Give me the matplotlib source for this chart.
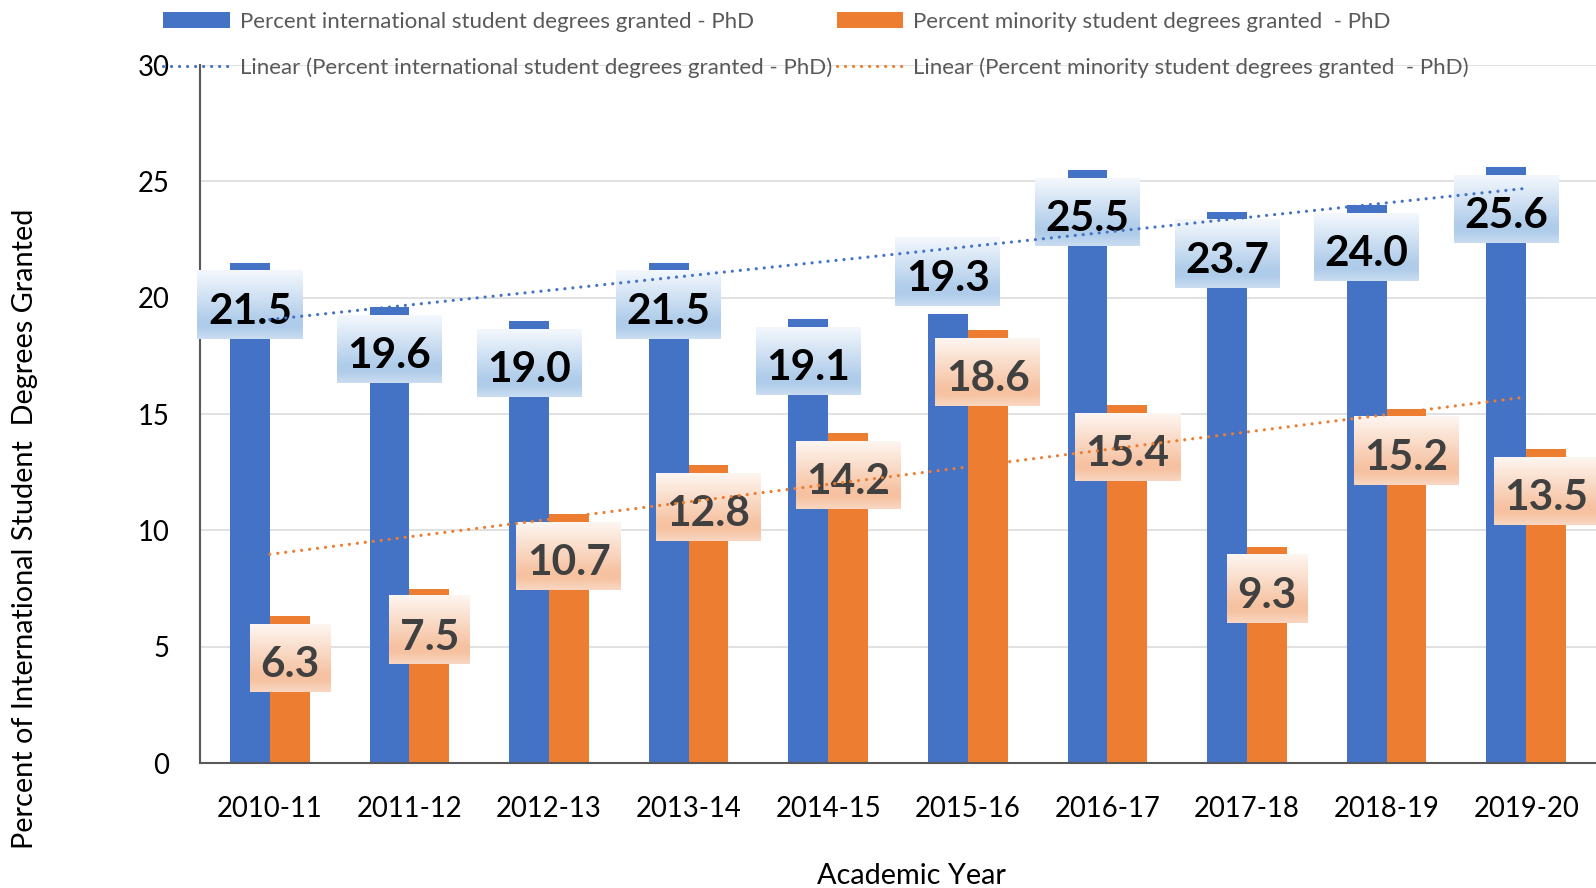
import numpy as np
import matplotlib
matplotlib.use('Agg')
import matplotlib.pyplot as plt
from matplotlib.lines import Line2D
from matplotlib.patches import Patch
import matplotlib.colors as mcolors

years = ['2010-11', '2011-12', '2012-13', '2013-14', '2014-15',
         '2015-16', '2016-17', '2017-18', '2018-19', '2019-20']
intl = [21.5, 19.6, 19.0, 21.5, 19.1, 19.3, 25.5, 23.7, 24.0, 25.6]
minority = [6.3, 7.5, 10.7, 12.8, 14.2, 18.6, 15.4, 9.3, 15.2, 13.5]
intl_label_above = ['2015-16']  # labels placed outside the bar end

name_intl = 'Percent international student degrees granted - PhD'
name_min = 'Percent minority student degrees granted  - PhD'

BLUE = '#4472C4'
ORANGE = '#ED7D31'

plt.rcParams['font.family'] = ['Lato', 'DejaVu Sans']

W, H = 1596, 888
fig = plt.figure(figsize=(W / 100, H / 100), dpi=100)
ax = fig.add_axes([200 / W, 125 / H, 1396 / W, 698 / H])

x = np.arange(len(years))
bw = 0.285
ax.bar(x - bw / 2, intl, bw, color=BLUE, zorder=2)
ax.bar(x + bw / 2, minority, bw, color=ORANGE, zorder=2)

ax.set_xlim(-0.5, 9.5)
ax.set_ylim(0, 30)
ax.set_autoscale_on(False)
ax.set_yticks(np.arange(0, 31, 5))
ax.set_xticks(x)
ax.set_xticklabels(years)
ax.tick_params(axis='both', length=0, labelsize=19.8, colors='black')
ax.tick_params(axis='x', pad=24)
ax.tick_params(axis='y', pad=22)
ax.grid(axis='y', color='#D9D9D9', lw=1.1, zorder=0)
ax.set_axisbelow(True)
for s in ['top', 'right']:
    ax.spines[s].set_visible(False)
for s in ['left', 'bottom']:
    ax.spines[s].set_color('#595959')
    ax.spines[s].set_linewidth(1.5)

# linear trendlines
DOTLW = 2.3
DOTS = (0, (0.01, 2.5))
xs = np.array([x[0], x[-1]])
pi = np.polyfit(x, intl, 1)
pm = np.polyfit(x, minority, 1)
ax.plot(xs, np.polyval(pi, xs), color=BLUE, linestyle=DOTS, lw=DOTLW,
        dash_capstyle='round', zorder=8)
ax.plot(xs, np.polyval(pm, xs), color=ORANGE, linestyle=DOTS, lw=DOTLW,
        dash_capstyle='round', zorder=8)

fig.text(25 / W, 1 - 529 / H, 'Percent of International Student  Degrees Granted',
         rotation=90, ha='center', va='center', fontsize=20.8, color='black')
fig.text(911 / W, 1 - 876 / H, 'Academic Year', ha='center', va='center',
         fontsize=20.8, color='black')

# legend
handles = [Patch(facecolor=BLUE, edgecolor='none'),
           Line2D([], [], color=BLUE, linestyle=DOTS, lw=DOTLW, dash_capstyle='round'),
           Patch(facecolor=ORANGE, edgecolor='none'),
           Line2D([], [], color=ORANGE, linestyle=DOTS, lw=DOTLW, dash_capstyle='round')]
labels = [name_intl, 'Linear (' + name_intl + ')', name_min, 'Linear (' + name_min + ')']
fig.legend(handles, labels, loc='upper left', bbox_to_anchor=(163 / W, 1 - 12 / H),
           ncol=2, frameon=False, fontsize=16, handlelength=3.0, handletextpad=0.45,
           columnspacing=0.22, labelspacing=1.13, borderpad=0, borderaxespad=0,
           labelcolor='#595959')


def gradient(mid, top, bottom):
    stops = [(0.0, top), (0.74, mid), (0.83, mid), (1.0, bottom)]
    n = 100
    arr = np.zeros((n, 1, 3))
    pos = np.linspace(0, 1, n)
    sp = [s[0] for s in stops]
    cols = np.array([mcolors.to_rgb(s[1]) for s in stops])
    for c in range(3):
        arr[:, 0, c] = np.interp(pos, sp, cols[:, c])
    return arr

grad_blue = gradient('#AFCCEA', '#F4F8FD', '#CADDF1')
grad_or = gradient('#F6C2A1', '#FEF6F1', '#F9D7C2')

fig.canvas.draw()
renderer = fig.canvas.get_renderer()
px = 100 / 72.0

labels_info = []
for i, yr in enumerate(years):
    above = yr in intl_label_above
    labels_info.append((x[i] - bw / 2, intl[i], above, 'black', grad_blue))
    labels_info.append((x[i] + bw / 2, minority[i], False, '#404040', grad_or))

for xc, v, above, tcol, grad in labels_info:
    if above:
        off = (8 + 15) / px
    else:
        off = -(8 + 53) / px
    t = ax.annotate(f'{v:.1f}', xy=(xc, v), xytext=(0, off), textcoords='offset points',
                    ha='center', va='baseline', fontsize=30.5, fontweight='bold',
                    color=tcol, zorder=7, annotation_clip=False)
    bb = t.get_window_extent(renderer)
    _, ytop_bar = ax.transData.transform((xc, v))
    if above:
        y0 = ytop_bar + 8
        y1 = y0 + 68
    else:
        y1 = ytop_bar - 8
        y0 = y1 - 68
    inv = ax.transData.inverted()
    dx0, dy0 = inv.transform((bb.x0 - 10.5, y0))
    dx1, dy1 = inv.transform((bb.x1 + 10.5, y1))
    ax.imshow(grad, extent=(dx0, dx1, dy0, dy1), aspect='auto', origin='upper',
              zorder=6, clip_on=False, interpolation='bilinear')

ax.set_xlim(-0.5, 9.5)
ax.set_ylim(0, 30)
fig.savefig('out.png', dpi=100)
